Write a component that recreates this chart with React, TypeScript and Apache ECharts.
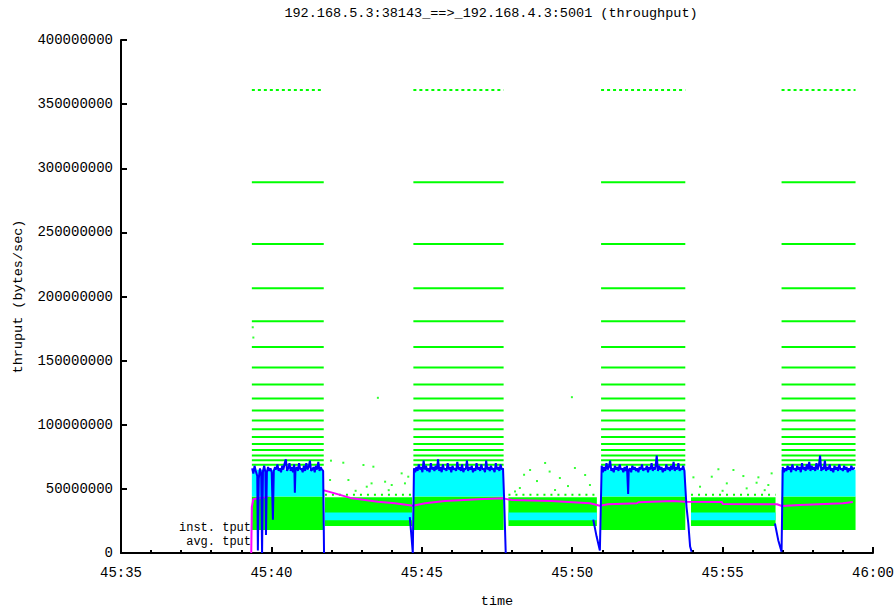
import React, { useEffect, useRef } from "react";
import * as echarts from "echarts";

const TITLE = "192.168.5.3:38143_==>_192.168.4.3:5001 (throughput)";
const Y_NAME = "thruput (bytes/sec)";
const X_NAME = "time";
const LEGEND_LABELS = ["inst. tput", "avg. tput"];

// time in seconds after 45:00 ; throughput values in MB/s (x 1e6 bytes/sec)
const X_MIN = 35;
const X_MAX = 60;
const Y_MAX = 400000000;

// busy (high) and quiet (low) periods
const highStart = [39.35, 44.72, 50.96, 56.96];
const highEnd = [41.74, 47.72, 53.76, 59.42];
const lowStart = [41.78, 47.88, 53.95];
const lowEnd = [44.68, 50.82, 56.76];

// bands [low, high] in MB/s
const highGreenBand = [18, 44];
const highCyanBand = [44, 65];
const lowGreenBand = [21, 43.5];
const lowCyanBand = [25.5, 31.5];
const lowTopDotLevel = [45.5];

// quantised instantaneous-throughput levels in MB/s (green horizontal rows)
const solidLevels = [289, 241, 206.5, 180.7, 160.6, 144.6, 131.4, 120.5, 111.2, 103.3, 96.4, 90.4, 85, 80.3, 76.1, 72.3, 68.8];
const dottedLevels = [361];

// isolated green points [t, MB/s]
const greenDots: [number, number][] = [
  [39.38, 176], [39.40, 168], [43.54, 121], [49.99, 121.5],
  [41.98, 72], [42.39, 70.4], [43.06, 68.6], [43.39, 67.3], [44.33, 62.1], [44.55, 59.5],
  [42.56, 56.9], [43.33, 54.3], [43.17, 51.7], [43.78, 55.6], [44.0, 53], [41.95, 56.9], [44.44, 54.3],
  [48.60, 64.7], [49.10, 70.2], [49.59, 58.5], [50.09, 66.3], [50.59, 53], [48.26, 50.7],
  [49.43, 49.1], [50.43, 60.8], [48.83, 56.1], [49.86, 52.2], [48.40, 61], [49.25, 63.5],
  [54.86, 65.3], [55.36, 64.7], [56.63, 62.1], [54.03, 59], [54.64, 59.5], [55.69, 60],
  [56.19, 59], [54.25, 51.7], [55.14, 54.3], [56.13, 54.8], [56.52, 53], [55.80, 50.4],
  [42.8, 48.5], [43.9, 49], [48.1, 48], [55.0, 48.5], [56.4, 49],
];

// average throughput (magenta) [t, MB/s]
const avgTput: [number, number][] = [
  [39.33, 0], [39.35, 36], [39.40, 42], [39.72, 43], [40.2, 47], [40.9, 48.5], [41.72, 49],
  [42.11, 46.5], [42.68, 42.6], [43.54, 40], [44.11, 38.8], [44.71, 36.9], [45.11, 38.8],
  [45.77, 40.5], [46.87, 41.9], [47.70, 42.6], [48.0, 41.3], [49.3, 40.5], [50.59, 38.8],
  [50.92, 36.9], [51.19, 38], [52.15, 38.8], [52.2, 39.6], [53.35, 40.5], [53.75, 40],
  [54.98, 39.8], [55.0, 38.2], [56.81, 38], [56.97, 36.6], [57.57, 37.4], [59.0, 38.8], [59.33, 39.8],
];

// instantaneous throughput (blue) per busy period [t, MB/s]
const blueA: [number, number][] = [
  [39.36, 66], [39.40, 62], [39.44, 68], [39.48, 64], [39.53, 60], [39.55, 2], [39.58, 58], [39.62, 66],
  [39.66, 62], [39.69, 0], [39.72, 64], [39.76, 68], [39.80, 63], [39.82, 14], [39.85, 63], [39.89, 67],
  [39.93, 64], [39.97, 66], [40.01, 63], [40.05, 26], [40.08, 64], [40.12, 67], [40.16, 65], [40.20, 69],
  [40.24, 64], [40.28, 66], [40.32, 63], [40.36, 68], [40.40, 65], [40.44, 70], [40.48, 73], [40.52, 64],
  [40.56, 66], [40.60, 70], [40.64, 64], [40.68, 67], [40.72, 63], [40.76, 69], [40.78, 47], [40.80, 65],
  [40.84, 67], [40.88, 64], [40.92, 70], [40.96, 65], [41.00, 66], [41.04, 63], [41.08, 68], [41.12, 64],
  [41.16, 70], [41.20, 65], [41.24, 67], [41.28, 72], [41.32, 64], [41.36, 65], [41.40, 67], [41.44, 63],
  [41.48, 68], [41.52, 65], [41.56, 71], [41.60, 64], [41.64, 67], [41.68, 65], [41.72, 64], [41.75, 0],
];
const blueB: [number, number][] = [
  [44.60, 28], [44.66, 12], [44.70, 0], [44.74, 66], [44.78, 63], [44.82, 67], [44.86, 64], [44.90, 69],
  [44.94, 65], [44.98, 67], [45.02, 63], [45.06, 72], [45.10, 65], [45.14, 68], [45.18, 64], [45.22, 66],
  [45.26, 63], [45.30, 70], [45.34, 65], [45.38, 67], [45.42, 64], [45.46, 68], [45.50, 65], [45.54, 73],
  [45.58, 64], [45.62, 67], [45.66, 63], [45.70, 69], [45.74, 65], [45.78, 66], [45.82, 64], [45.86, 70],
  [45.90, 65], [45.94, 67], [45.98, 63], [46.02, 68], [46.06, 65], [46.10, 66], [46.14, 64], [46.18, 71],
  [46.22, 65], [46.26, 67], [46.30, 64], [46.34, 69], [46.38, 63], [46.42, 66], [46.46, 65], [46.50, 72],
  [46.54, 64], [46.58, 67], [46.62, 65], [46.66, 68], [46.70, 63], [46.74, 66], [46.78, 64], [46.82, 70],
  [46.86, 65], [46.90, 67], [46.94, 64], [46.98, 69], [47.02, 65], [47.06, 66], [47.10, 63], [47.14, 72],
  [47.18, 65], [47.22, 67], [47.26, 64], [47.30, 68], [47.34, 65], [47.38, 66], [47.42, 63], [47.46, 70],
  [47.50, 65], [47.54, 67], [47.58, 64], [47.62, 69], [47.66, 65], [47.70, 66], [47.74, 40], [47.79, 0],
];
const blueC: [number, number][] = [
  [50.70, 26], [50.81, 13], [50.92, 2], [50.98, 68], [51.02, 63], [51.06, 67], [51.10, 64], [51.14, 70],
  [51.18, 65], [51.22, 67], [51.26, 72], [51.30, 64], [51.34, 66], [51.38, 63], [51.42, 68], [51.46, 65],
  [51.50, 67], [51.54, 64], [51.58, 69], [51.62, 65], [51.66, 66], [51.70, 63], [51.74, 67], [51.78, 64],
  [51.82, 68], [51.86, 46], [51.88, 65], [51.92, 66], [51.96, 63], [52.00, 68], [52.04, 65], [52.08, 67],
  [52.12, 64], [52.16, 66], [52.20, 63], [52.24, 67], [52.28, 65], [52.32, 69], [52.36, 64], [52.40, 66],
  [52.44, 65], [52.48, 68], [52.52, 63], [52.56, 67], [52.60, 65], [52.64, 70], [52.68, 64], [52.72, 67],
  [52.76, 65], [52.81, 76], [52.85, 64], [52.89, 68], [52.93, 65], [52.97, 67], [53.01, 63], [53.05, 66],
  [53.09, 64], [53.13, 69], [53.17, 65], [53.21, 67], [53.25, 64], [53.29, 68], [53.33, 65], [53.37, 71],
  [53.41, 64], [53.45, 67], [53.49, 65], [53.53, 70], [53.57, 64], [53.61, 66], [53.65, 65], [53.69, 68],
  [53.73, 64], [53.80, 36], [53.86, 23], [53.92, 5], [53.97, 1],
];
const blueD: [number, number][] = [
  [56.74, 23], [56.85, 10], [56.96, 1], [57.00, 67], [57.04, 63], [57.08, 66], [57.12, 64], [57.16, 68],
  [57.20, 65], [57.24, 67], [57.28, 63], [57.32, 69], [57.36, 65], [57.40, 66], [57.44, 64], [57.48, 68],
  [57.52, 65], [57.56, 67], [57.60, 63], [57.64, 70], [57.68, 65], [57.72, 67], [57.76, 64], [57.80, 69],
  [57.84, 65], [57.88, 71], [57.92, 64], [57.96, 68], [58.00, 65], [58.04, 67], [58.08, 64], [58.12, 70],
  [58.16, 65], [58.20, 68], [58.24, 76], [58.28, 64], [58.32, 67], [58.36, 65], [58.40, 72], [58.44, 64],
  [58.48, 67], [58.52, 65], [58.56, 69], [58.60, 64], [58.64, 66], [58.68, 63], [58.72, 68], [58.76, 65],
  [58.80, 67], [58.84, 64], [58.88, 69], [58.92, 65], [58.96, 66], [59.00, 64], [59.04, 68], [59.08, 65],
  [59.12, 67], [59.16, 63], [59.20, 66], [59.24, 64], [59.28, 68], [59.32, 65], [59.36, 66], [59.40, 66],
];

const M = 1e6;
const FONT = "'Liberation Mono', 'DejaVu Sans Mono', monospace";
const GREEN = "#00ff00";
const CYAN = "#00ffff";
const BLUE = "#0000ff";
const MAGENTA = "#ff00ff";

function bands(starts: number[], ends: number[], band: number[]) {
  return starts.map((s, i) => [s, ends[i], band[0] * M, band[1] * M]);
}
function rows(starts: number[], ends: number[], levels: number[]) {
  const out: number[][] = [];
  starts.forEach((s, i) => levels.forEach((l) => out.push([s, ends[i], l * M])));
  return out;
}
function rectSeries(data: number[][], color: string, z: number) {
  return {
    type: "custom",
    data,
    z,
    encode: { x: [0, 1], y: [2, 3] },
    silent: true,
    renderItem: (_p: any, api: any) => {
      const a = api.coord([api.value(0), api.value(3)]);
      const b = api.coord([api.value(1), api.value(2)]);
      return {
        type: "rect",
        shape: { x: a[0], y: a[1], width: b[0] - a[0], height: b[1] - a[1] },
        style: { fill: color },
      };
    },
  };
}
function rowSeries(data: number[][], dash: number[] | null, width: number) {
  return {
    type: "custom",
    data,
    z: 1,
    encode: { x: [0, 1], y: 2 },
    silent: true,
    renderItem: (_p: any, api: any) => {
      const a = api.coord([api.value(0), api.value(2)]);
      const b = api.coord([api.value(1), api.value(2)]);
      return {
        type: "line",
        shape: { x1: a[0], y1: a[1], x2: b[0], y2: b[1] },
        style: { stroke: GREEN, lineWidth: width, lineDash: dash || undefined },
      };
    },
  };
}

export default function App() {
  const ref = useRef<HTMLDivElement>(null);
  useEffect(() => {
    if (!ref.current) return;
    const chart = echarts.init(ref.current, undefined, { renderer: "svg" });
    const toPts = (arr: [number, number][]) => arr.map(([t, v]) => [t, v * M]);
    const gap = (t: number) => [t, "-"];
    const blueData = [
      ...toPts(blueA), gap(43), ...toPts(blueB), gap(49), ...toPts(blueC), gap(55), ...toPts(blueD),
    ];
    const legendStyle = (text: string) => ({
      text,
      font: `12px ${FONT}`,
      fill: "#000",
      textAlign: "right",
      textVerticalAlign: "middle",
    });
    const option: any = {
      animation: false,
      backgroundColor: "#ffffff",
      grid: { left: 121, right: 22, top: 40, bottom: 56, containLabel: false, outerBoundsMode: "none" },
      xAxis: {
        type: "value",
        min: X_MIN,
        max: X_MAX,
        interval: 5,
        name: X_NAME,
        nameLocation: "middle",
        nameGap: 41,
        nameTextStyle: { fontFamily: FONT, fontSize: 13.5, color: "#000" },
        axisLine: { show: true, lineStyle: { color: "#000", width: 2 } },
        axisTick: { show: true, inside: true, length: 6, lineStyle: { color: "#000", width: 2 } },
        minorTick: { show: true, splitNumber: 5, length: 3, lineStyle: { color: "#000", width: 2 } },
        splitLine: { show: false },
        axisLabel: {
          margin: 13,
          fontFamily: FONT,
          fontSize: 14,
          color: "#000",
          formatter: (v: number) => {
            const m = v >= 60 ? 46 : 45;
            const s = v >= 60 ? v - 60 : v;
            return `${m}:${String(s).padStart(2, "0")}`;
          },
        },
      },
      yAxis: {
        type: "value",
        min: 0,
        max: Y_MAX,
        interval: 50000000,
        name: Y_NAME,
        nameLocation: "middle",
        nameGap: 96,
        nameTextStyle: { fontFamily: FONT, fontSize: 13.5, color: "#000" },
        axisLine: { show: true, lineStyle: { color: "#000", width: 2 } },
        axisTick: { show: true, inside: true, length: 6, lineStyle: { color: "#000", width: 2 } },
        splitLine: { show: false },
        axisLabel: {
          margin: 8,
          fontFamily: FONT,
          fontSize: 14,
          color: "#000",
          formatter: (v: number) => String(Math.round(v)),
        },
      },
      graphic: [
        {
          type: "text",
          x: 491,
          y: 13,
          style: { text: TITLE, font: `13.5px ${FONT}`, fill: "#000", textAlign: "center", textVerticalAlign: "middle" },
        },
        { type: "text", x: 251, y: 528, z: 10, style: legendStyle(LEGEND_LABELS[0]) },
        { type: "text", x: 251, y: 541.5, z: 10, style: legendStyle(LEGEND_LABELS[1]) },
      ],
      series: [
        rectSeries(bands(highStart, highEnd, highGreenBand), GREEN, 1),
        rectSeries(bands(lowStart, lowEnd, lowGreenBand), GREEN, 1),
        rowSeries(rows(highStart, highEnd, solidLevels), null, 2),
        rowSeries(rows(highStart, highEnd, dottedLevels), [3, 3], 2),
        rowSeries(rows(lowStart, lowEnd, lowTopDotLevel), [2, 5], 2),
        {
          type: "scatter",
          data: toPts(greenDots),
          symbol: "rect",
          symbolSize: 2,
          z: 1,
          itemStyle: { color: GREEN },
          silent: true,
        },
        {
          type: "line",
          data: toPts(avgTput),
          showSymbol: false,
          z: 2,
          lineStyle: { color: MAGENTA, width: 2 },
          silent: true,
        },
        rectSeries(bands(highStart, highEnd, highCyanBand), CYAN, 3),
        rectSeries(bands(lowStart, lowEnd, lowCyanBand), CYAN, 3),
        {
          type: "line",
          data: blueData,
          showSymbol: false,
          connectNulls: false,
          z: 4,
          lineStyle: { color: BLUE, width: 2 },
          silent: true,
        },
      ],
    };
    chart.setOption(option);
    return () => chart.dispose();
  }, []);
  return (
    <div
      ref={ref}
      style={{ position: "fixed", left: 0, top: 0, width: 895, height: 609, background: "#fff" }}
    />
  );
}
